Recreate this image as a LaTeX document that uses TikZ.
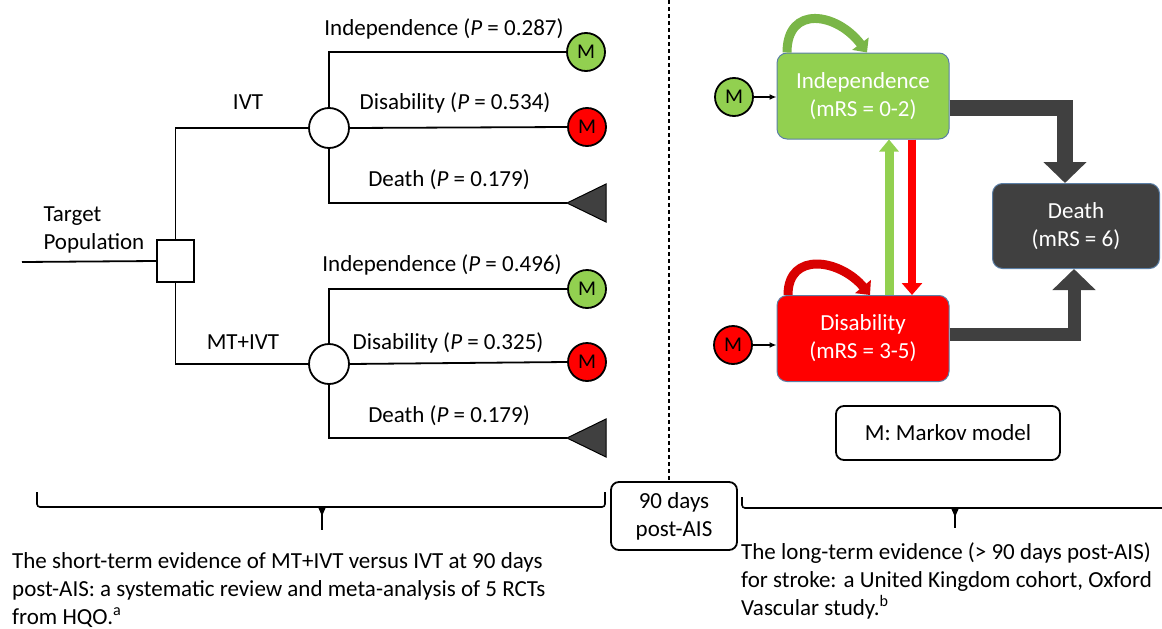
\documentclass[tikz,border=0pt]{standalone}
\usepackage{fontspec}
\setmainfont{Carlito}
\usetikzlibrary{arrows.meta}
\definecolor{indgreen}{HTML}{92D050}
\definecolor{loopgreen}{HTML}{7AB648}
\definecolor{disred}{HTML}{FF0000}
\definecolor{loopred}{HTML}{D90000}
\definecolor{deadgray}{HTML}{404040}
\definecolor{edgeblue}{HTML}{5B7FA6}
\tikzset{
  branch/.style={line width=1.8pt},
  chance/.style={circle, draw, line width=1.8pt, fill=white, minimum size=40pt, inner sep=0pt},
  decision/.style={rectangle, draw, line width=1.8pt, fill=white, minimum width=37pt, minimum height=42pt},
  mnode/.style={circle, draw, line width=1.8pt, minimum size=38pt, inner sep=0pt, font=\fontsize{21}{24}\selectfont},
  state/.style={rounded corners=10pt, draw=edgeblue, line width=1pt, text=white, align=center, minimum width=172pt, minimum height=86pt},
  legendbox/.style={rounded corners=8pt, draw, line width=1.8pt, align=center},
  bigflow/.style={deadgray, line join=miter, -{Triangle[width=42pt,length=21pt]}},
  evbrace/.style={line width=1.6pt, rounded corners=3pt},
}
\begin{document}
\begin{tikzpicture}[x=1pt, y=-1pt, font=\fontsize{23}{28}\selectfont]
\useasboundingbox (0,0) rectangle (1162,629);

% decision tree
\coordinate (start) at (22,262);
\node[decision] (dec) at (175.5,261) {};
\node[align=left, anchor=west] (target) at (40,230) {Target\\Population};
\draw[branch] (start) -- (dec.west);
\node[chance] (c1) at (329,128) {};
\node[chance] (c2) at (329,364) {};
\draw[branch] (dec.north) |- (c1.west);
\draw[branch] (dec.south) |- (c2.west);
\node (ivt) at (248,102) {IVT};
\node (mtivt) at (243,342) {MT+IVT};

% IVT arm
\node[mnode, fill=indgreen] (m1) at (586,52) {M};
\node[mnode, fill=disred] (m2) at (587,127) {M};
\coordinate (d1) at (567,203);
\draw[branch] (c1.north) |- (m1.west);
\draw[branch] (c1.east) -- (m2.west);
\draw[branch] (c1.south) |- (d1);
\filldraw[fill=deadgray, line width=1pt] (d1) -- ++(39,-19) -- ++(0,38) -- cycle;
\node (p1) at (444,29) {Independence (\textit{P} = 0.287)};
\node (p2) at (455,103) {Disability (\textit{P} = 0.534)};
\node (p3) at (449,180) {Death (\textit{P} = 0.179)};

% MT+IVT arm
\node[mnode, fill=indgreen] (m3) at (587,289) {M};
\node[mnode, fill=disred] (m4) at (587,362) {M};
\coordinate (d2) at (567,438);
\draw[branch] (c2.north) |- (m3.west);
\draw[branch] (c2.east) -- (m4.west);
\draw[branch] (c2.south) |- (d2);
\filldraw[fill=deadgray, line width=1pt] (d2) -- ++(39,-19) -- ++(0,38) -- cycle;
\node (p4) at (442,265) {Independence (\textit{P} = 0.496)};
\node (p5) at (448,343) {Disability (\textit{P} = 0.325)};
\node (p6) at (449,416) {Death (\textit{P} = 0.179)};

% Markov states
\node[state, fill=indgreen] (indep) at (863,96) {Independence\\(mRS = 0-2)};
\node[state, fill=disred] (disab) at (863,338.5) {Disability\\(mRS = 3-5)};
\node[state, fill=deadgray, minimum width=167pt, minimum height=85pt] (death) at (1076,226) {Death\\(mRS = 6)};
\node[mnode, fill=indgreen] (mi) at (734,97) {M};
\node[mnode, fill=disred] (md) at (733,345) {M};
\draw[line width=1.5pt, -{Latex[length=7pt,width=6pt]}] (mi) -- (indep.west |- mi);
\draw[line width=1.5pt, -{Latex[length=7pt,width=6pt]}] (md) -- (disab.west |- md);

% transitions
\draw[line width=9pt, loopgreen, -{Triangle[width=20pt,length=11pt]}] ([xshift=-76pt]indep.north) .. controls +(0,-48) and +(-30,-40) .. ([xshift=4pt]indep.north);
\draw[line width=9pt, loopred, -{Triangle[width=20pt,length=11pt]}] ([xshift=-75pt]disab.north) .. controls +(0,-44) and +(-30,-36) .. ([xshift=7pt]disab.north);
\draw[line width=9pt, indgreen, -{Triangle[width=19pt,length=12pt]}] ([xshift=26pt]disab.north) -- ([xshift=26pt]indep.south);
\draw[line width=8pt, disred, -{Triangle[width=20pt,length=12pt]}] ([xshift=49pt]indep.south) -- ([xshift=49pt]disab.north);
\draw[bigflow, line width=16pt] ([yshift=-11.5pt]indep.east) -| ([xshift=-11pt]death.north);
\draw[bigflow, line width=13pt] ([yshift=4.5pt]disab.east) -| ([xshift=-2pt]death.south);

\node[legendbox, minimum width=224pt, minimum height=54pt] (legend) at (948,433) {M: Markov model};

% time line
\node[legendbox, minimum width=126pt, minimum height=68pt] (days) at (674,516) {90 days\\post-AIS};
\coordinate (divtop) at (669,0);
\draw[line width=1.5pt, dash pattern=on 4pt off 3pt] (divtop) -- (divtop |- days.north);
\draw[evbrace] (37,492) -- (37,507) -- (605,507) -- (605,492);
\draw[evbrace] (742,497) -- (742,508) -- (1170,508);
\draw[line width=1.6pt] (322,507) -- (322,530);
\fill (318,507) -- (326,507) -- (322,516) -- cycle;
\draw[line width=1.6pt] (955,508) -- (955,528);
\fill (951,508) -- (959,508) -- (955,517) -- cycle;
\node[align=left, anchor=north west, inner sep=0pt] (shortev) at (12,552) {The short-term evidence of MT+IVT versus IVT at 90 days\\post-AIS: a systematic review and meta-analysis of 5 RCTs\\from HQO.\textsuperscript{a}};
\node[align=left, anchor=north west, inner sep=0pt] (longev) at (741,542) {The long-term evidence (> 90 days post-AIS)\\for stroke: a United Kingdom cohort, Oxford\\Vascular study.\textsuperscript{b}};
\end{tikzpicture}
\end{document}
